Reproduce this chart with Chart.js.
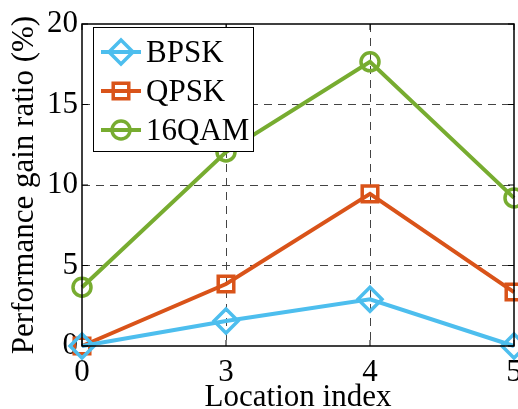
<!DOCTYPE html>
<html>
<head>
  <title>Performance gain ratio</title>
  <script src="https://cdn.jsdelivr.net/npm/chart.js"></script>
  <style>
    body { margin: 0; background: #fff; }
    #wrap { width: 518px; height: 409px; }
  </style>
</head>
<body>
  <div id="wrap"><canvas id="gainChart" width="518" height="409"></canvas></div>

  <script>
    var locations = ['0', '3', '4', '5'];
    var bpsk = [0, 1.55, 2.9, 0];
    var qpsk = [0, 3.85, 9.45, 3.35];
    var qam16 = [3.65, 12.05, 17.65, 9.2];
    var yTicks = [0, 5, 10, 15, 20];

    var FONT = '"Liberation Serif", "Times New Roman", serif';

    // draws the plot frame, inward ticks and the boxed legend (line + marker)
    var framePlugin = {
      id: 'frame',
      afterDatasetsDraw: function(chart) {
        var ctx = chart.ctx;
        var a = chart.chartArea;
        var xs = chart.scales.x, ys = chart.scales.y;
        ctx.save();
        ctx.strokeStyle = '#000';
        ctx.lineWidth = 1.5;
        ctx.strokeRect(a.left, a.top, a.right - a.left, a.bottom - a.top);

        ctx.lineWidth = 1;
        ctx.beginPath();
        yTicks.forEach(function(v) {
          var y = ys.getPixelForValue(v);
          ctx.moveTo(a.left, y); ctx.lineTo(a.left + 6, y);
          ctx.moveTo(a.right, y); ctx.lineTo(a.right - 6, y);
        });
        locations.forEach(function(l, i) {
          var x = xs.getPixelForValue(i);
          ctx.moveTo(x, a.bottom); ctx.lineTo(x, a.bottom - 6);
          ctx.moveTo(x, a.top); ctx.lineTo(x, a.top + 6);
        });
        ctx.stroke();

        // legend
        var bx = 93, by = 27, bw = 160, bh = 124;
        ctx.fillStyle = '#fff';
        ctx.fillRect(bx, by, bw, bh);
        ctx.strokeStyle = '#000';
        ctx.lineWidth = 1;
        ctx.strokeRect(bx + 0.5, by + 0.5, bw, bh);
        var rows = [52, 91, 130];
        chart.data.datasets.forEach(function(ds, i) {
          var y = rows[i];
          ctx.strokeStyle = ds.borderColor;
          ctx.lineWidth = 4;
          ctx.beginPath();
          ctx.moveTo(101, y);
          ctx.lineTo(141, y);
          ctx.stroke();
          ctx.fillStyle = 'rgba(0,0,0,0)';
          ctx.lineWidth = 3.5;
          Chart.helpers.drawPoint(ctx, {
            pointStyle: ds.pointStyle,
            radius: ds.pointRadius,
            borderWidth: 3.5
          }, 121, y);
          ctx.fillStyle = '#000';
          ctx.font = '31px ' + FONT;
          ctx.textBaseline = 'middle';
          ctx.fillText(ds.label, 146, y + 2);
        });
        ctx.restore();
      }
    };

    function series(label, data, color, style, r) {
      return {
        label: label,
        data: data,
        borderColor: color,
        backgroundColor: 'rgba(0,0,0,0)',
        borderWidth: 4,
        pointStyle: style,
        pointRadius: r,
        pointBorderWidth: 3.5,
        pointBorderColor: color,
        pointBackgroundColor: 'rgba(0,0,0,0)',
        tension: 0,
        clip: false
      };
    }

    var ctx = document.getElementById('gainChart').getContext('2d');
    var gainChart = new Chart(ctx, {
      type: 'line',
      data: {
        labels: locations,
        datasets: [
          series('BPSK', bpsk, '#4DBEEE', 'rectRot', 12),
          series('QPSK', qpsk, '#D95319', 'rect', 11),
          series('16QAM', qam16, '#77AC30', 'circle', 9)
        ]
      },
      options: {
        responsive: false,
        animation: false,
        layout: { autoPadding: false, padding: { top: 24, right: 4, left: 0, bottom: 0 } },
        plugins: {
          legend: { display: false },
          tooltip: { enabled: false }
        },
        scales: {
          x: {
            offset: false,
            grid: {
              color: function(c) {
                return (c.index === 0 || c.index === locations.length - 1) ? 'rgba(0,0,0,0)' : '#444';
              },
              lineWidth: 1,
              drawTicks: false
            },
            border: { display: false, dash: [8, 6] },
            ticks: {
              color: '#000',
              font: { family: FONT, size: 31 },
              padding: 8,
              maxRotation: 0
            },
            title: {
              display: true,
              text: 'Location index',
              color: '#000',
              font: { family: FONT, size: 31 },
              padding: { top: -10, bottom: -7 }
            },
            afterFit: function(s) {
              s.height = 63;
              s.paddingLeft = 0;
              s.paddingRight = 0;
            }
          },
          y: {
            min: 0,
            max: 20,
            afterBuildTicks: function(s) {
              s.ticks = yTicks.map(function(v) { return { value: v }; });
            },
            grid: {
              color: function(c) {
                return (c.tick.value === 0 || c.tick.value === 20) ? 'rgba(0,0,0,0)' : '#444';
              },
              lineWidth: 1,
              drawTicks: false
            },
            border: { display: false, dash: [8, 6] },
            ticks: {
              color: '#000',
              font: { family: FONT, size: 31 },
              padding: 4
            },
            title: {
              display: true,
              text: 'Performance gain ratio (%)',
              color: '#000',
              font: { family: FONT, size: 31 },
              padding: { top: 6, bottom: 0 }
            },
            afterFit: function(s) {
              s.width = 82;
              s.paddingTop = 0;
              s.paddingBottom = 0;
            }
          }
        }
      },
      plugins: [framePlugin]
    });
  </script>
</body>
</html>
